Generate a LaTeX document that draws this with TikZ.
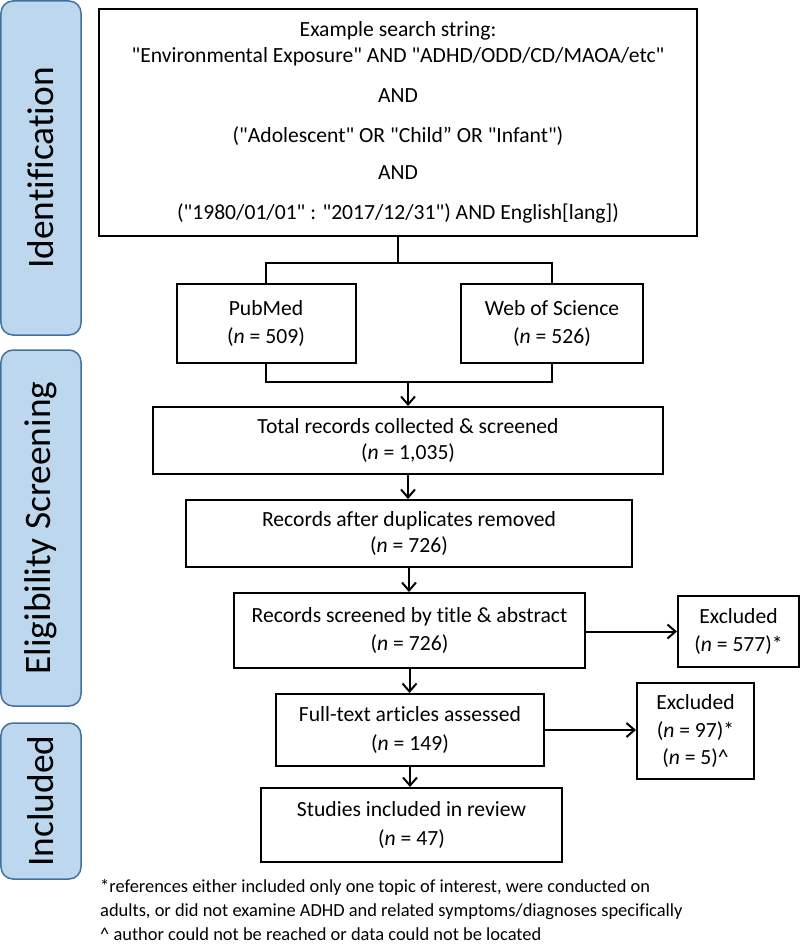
\documentclass[tikz,border=0pt]{standalone}
\usepackage{fontspec}
\setmainfont{Carlito}[Ligatures={TeXOff,CommonOff}]
\usetikzlibrary{arrows.meta}
\definecolor{sidefill}{RGB}{189,215,238}
\definecolor{sideedge}{RGB}{65,113,156}
\begin{document}
\begin{tikzpicture}[x=1bp,y=-1bp,
  box/.style={draw, line width=2bp, align=center, inner sep=0pt, font=\fontsize{21.7}{28}\selectfont},
  side/.style={draw=sideedge, fill=sidefill, rounded corners=12bp, line width=1.5bp, inner sep=0pt, rotate=90, minimum height=80bp, font=\fontsize{37.5}{42}\selectfont},
  conn/.style={line width=2bp},
  arr/.style={conn, -{Straight Barb[length=8bp,width=14bp]}},
  note/.style={anchor=north west, align=left, inner sep=0pt, font=\fontsize{18.5}{24}\selectfont}]
\useasboundingbox (0,0) rectangle (800,945);
% side labels
\node[side, minimum width=334bp] (ident) at (41,168) {Identification};
\node[side, minimum width=356bp] (elig) at (41,528) {Eligibility Screening};
\node[side, minimum width=156bp] (incl) at (41,801) {Included};
% boxes
\node[box, minimum width=598bp, minimum height=227bp] (search) at (398,122.5)
  {Example search string:\\[-2bp]
   "Environmental Exposure" AND "ADHD/ODD/CD/MAOA/etc"\\[12bp]
   AND\\[12bp]
   ("Adolescent" OR "Child” OR "Infant")\\[10bp]
   AND\\[12bp]
   ("1980/01/01" : "2017/12/31") AND English[lang])};
\node[box, minimum width=179bp, minimum height=79bp] (pubmed) at (266,323.5) {PubMed\\(\textit{n} = 509)};
\node[box, minimum width=182bp, minimum height=79bp] (wos) at (552,323.5) {Web of Science\\(\textit{n} = 526)};
\node[box, minimum width=510bp, minimum height=67bp] (total) at (408,440.5) {Total records collected \& screened\\[-2bp](\textit{n} = 1,035)};
\node[box, minimum width=446bp, minimum height=67bp] (dup) at (409,533.5) {Records after duplicates removed\\[-1bp](\textit{n} = 726)};
\node[box, minimum width=351bp, minimum height=75bp] (screen) at (409.5,630.5) {Records screened by title \& abstract\\(\textit{n} = 726)};
\node[box, minimum width=121bp, minimum height=71bp] (exca) at (738.5,631.5) {Excluded\\(\textit{n} = 577)*};
\node[box, minimum width=268bp, minimum height=72bp] (full) at (410,730) {Full-text articles assessed\\[1bp](\textit{n} = 149)};
\node[box, minimum width=117bp, minimum height=96bp] (excb) at (695.5,731) {Excluded\\(\textit{n} = 97)*\\(\textit{n} = 5)\^{}};
\node[box, minimum width=301bp, minimum height=74bp] (studies) at (411.5,825) {Studies included in review\\[1bp](\textit{n} = 47)};
% footnote
\node[note] (foot) at (100,879)
  {*references either included only one topic of interest, were conducted on\\
   adults, or did not examine ADHD and related symptoms/diagnoses specifically\\
   \^{} author could not be reached or data could not be located};
% connectors
\coordinate (ja) at (398,263);
\coordinate (jb) at (408,382);
\draw[conn] (search.south) -- (ja);
\draw[conn] (pubmed.north) |- (ja) -| (wos.north);
\draw[conn] (pubmed.south) |- (jb) -| (wos.south);
\draw[arr] (jb) -- (total.north);
\draw[arr] (total.south) -- (dup.north -| total.south);
\draw[arr] (dup.south) -- (screen.north -| dup.south);
\draw[arr] (screen.south) -- (full.north -| screen.south);
\draw[arr] (full.south) -- (studies.north -| full.south);
\draw[arr] (screen.east |- exca.west) -- (exca.west);
\draw[arr] (full.east) -- (excb.west |- full.east);
\end{tikzpicture}
\end{document}
